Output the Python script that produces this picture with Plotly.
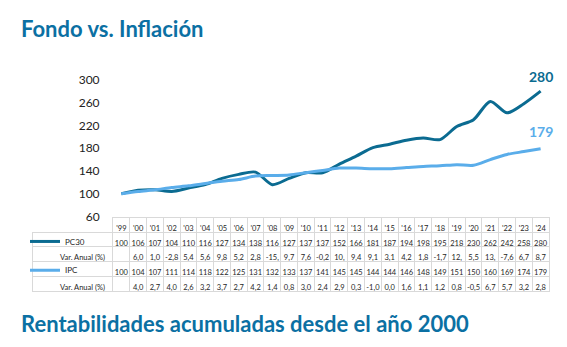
import plotly.graph_objects as go

# --- data ---
years = ["'99", "'00", "'01", "'02", "'03", "'04", "'05", "'06", "'07", "'08", "'09",
         "'10", "'11", "'12", "'13", "'14", "'15", "'16", "'17", "'18", "'19", "'20",
         "'21", "'22", "'23", "'24"]
pc30 = [100, 106, 107, 104, 110, 116, 127, 134, 138, 116, 127, 137, 137, 152, 166,
        181, 187, 194, 198, 195, 218, 230, 262, 242, 258, 280]
pc30_var = ["", "6,0", "1,0", "-2,8", "5,4", "5,6", "9,8", "5,2", "2,8", "-15,", "9,7",
            "7,6", "-0,2", "10,", "9,4", "9,1", "3,1", "4,2", "1,8", "-1,7", "12,", "5,5",
            "13,", "-7,6", "6,7", "8,7"]
ipc = [100, 104, 107, 111, 114, 118, 122, 125, 131, 132, 133, 137, 141, 145, 145,
       144, 144, 146, 148, 149, 151, 150, 160, 169, 174, 179]
ipc_var = ["", "4,0", "2,7", "4,0", "2,6", "3,2", "3,7", "2,7", "4,2", "1,4", "0,8",
           "3,0", "2,4", "2,9", "0,3", "-1,0", "0,0", "1,6", "1,1", "1,2", "0,8", "-0,5",
           "6,7", "5,7", "3,2", "2,8"]
row_labels = ["", "Var. Anual (%)", "", "Var. Anual (%)"]
y_ticks = [60, 100, 140, 180, 220, 260, 300]

# --- style ---
W, H = 567, 347
DARK = "#0b6b91"
LIGHT = "#5aadea"
TITLE = "#0b70a3"
GRID = "#d9d9d9"
TEXT = "#262626"
FONT = "Lato"
CLEAR = "rgba(0,0,0,0)"

def px(x):
    return x / W

def py(y):
    return 1 - y / H

x_idx = list(range(len(years)))

fig = go.Figure()

fig.add_trace(go.Scatter(
    x=x_idx, y=pc30, name="PC30", mode="lines",
    line=dict(color=DARK, width=3, shape="spline", smoothing=0.8),
    legend="legend", hoverinfo="skip"))
fig.add_trace(go.Scatter(
    x=x_idx, y=ipc, name="IPC", mode="lines",
    line=dict(color=LIGHT, width=3, shape="spline", smoothing=0.8),
    legend="legend2", hoverinfo="skip"))

# data table below the chart
label_w = 81
data_w = 16.77
col_values = [row_labels] + [[pc30[i], pc30_var[i], ipc[i], ipc_var[i]] for i in range(len(years))]
fig.add_trace(go.Table(
    domain=dict(x=[px(32), px(549)], y=[py(310), py(219)]),
    columnwidth=[label_w] + [data_w] * len(years),
    header=dict(
        values=[""] + years,
        height=14.5,
        fill_color=[CLEAR] + ["white"] * len(years),
        line=dict(color=[CLEAR] + [GRID] * len(years), width=1),
        font=dict(family=FONT, size=7.5, color=TEXT),
        align="center",
    ),
    cells=dict(
        values=col_values,
        height=14.8,
        fill_color="white",
        line=dict(color=GRID, width=1),
        font=dict(family=FONT, size=7.5, color=TEXT),
        align=["right"] + ["center"] * len(years),
    ),
))

# end-of-series value labels
fig.add_annotation(x=x_idx[-1], y=pc30[-1], text=f"<b>{pc30[-1]}</b>", showarrow=False,
                   yshift=15, font=dict(family=FONT, size=14, color=DARK))
fig.add_annotation(x=x_idx[-1], y=ipc[-1], text=f"<b>{ipc[-1]}</b>", showarrow=False,
                   yshift=17, font=dict(family=FONT, size=14, color=LIGHT))

# headings
fig.add_annotation(xref="paper", yref="paper", x=px(19), y=py(21), xanchor="left",
                   yanchor="middle", showarrow=False, text="<b>Fondo vs. Inflación</b>",
                   font=dict(family=FONT, size=22, color=TITLE))
fig.add_annotation(xref="paper", yref="paper", x=px(19), y=py(330), xanchor="left",
                   yanchor="middle", showarrow=False,
                   text="<b>Rentabilidades acumuladas desde el año 2000</b>",
                   font=dict(family=FONT, size=22, color=TITLE))

legend_common = dict(
    orientation="h", xanchor="left", yanchor="middle", bgcolor=CLEAR,
    borderwidth=0, font=dict(family=FONT, size=8, color=TEXT),
    itemwidth=30, tracegroupgap=0, itemclick=False, itemdoubleclick=False,
)

fig.update_layout(
    width=W, height=H,
    margin=dict(l=0, r=0, t=0, b=0),
    paper_bgcolor="white", plot_bgcolor="white",
    showlegend=True,
    legend=dict(x=px(25), y=py(244), **legend_common),
    legend2=dict(x=px(25), y=py(274), **legend_common),
    xaxis=dict(domain=[px(113), px(549)], range=[-0.5, len(years) - 0.5],
               showticklabels=False, showgrid=False, zeroline=False, showline=False,
               fixedrange=True),
    yaxis=dict(domain=[py(218), py(75)], range=[60, 300], tickvals=y_ticks,
               showgrid=False, zeroline=False, showline=False,
               ticks="outside", ticklen=10, tickcolor=CLEAR,
               tickfont=dict(family=FONT, size=12, color="#222222"), fixedrange=True),
)

fig.write_html("out.html")
